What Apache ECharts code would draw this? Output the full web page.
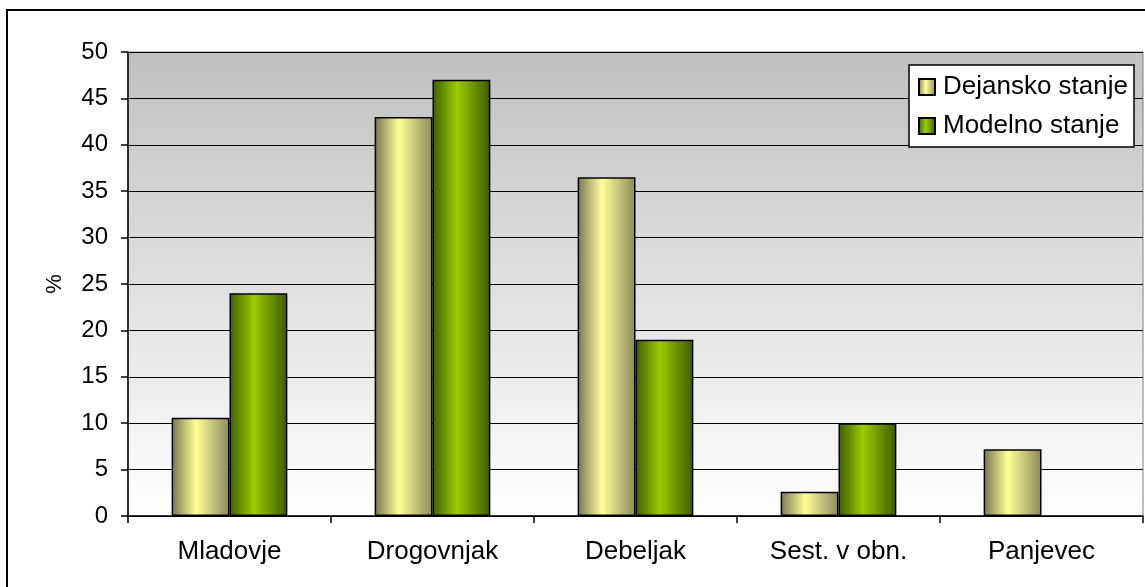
<!DOCTYPE html>
<html>
<head>
<meta charset="utf-8">
<script src="https://cdn.jsdelivr.net/npm/echarts@6/dist/echarts.min.js"></script>
<style>
html,body{margin:0;padding:0;background:#fff;}
#chart{width:1145px;height:587px;}
</style>
</head>
<body>
<div id="chart"></div>
<script>
const categories = ['Mladovje', 'Drogovnjak', 'Debeljak', 'Sest. v obn.', 'Panjevec'];
const dejansko = [10.6, 43, 36.5, 2.6, 7.2];
const modelno = [24, 47, 19, 10, null];
const seriesNames = ['Dejansko stanje', 'Modelno stanje'];

const chart = echarts.init(document.getElementById('chart'));
const font = 'Liberation Sans, Arial, sans-serif';

function hGrad(edgeL, mid, edgeR) {
  return new echarts.graphic.LinearGradient(0, 0, 1, 0, [
    {offset: 0, color: edgeL},
    {offset: 0.42, color: mid},
    {offset: 1, color: edgeR}
  ]);
}

chart.setOption({
  animation: false,
  backgroundColor: '#fff',
  graphic: [{
    type: 'rect', shape: {x: 7, y: 10, width: 1150, height: 600},
    style: {fill: 'none', stroke: '#000', lineWidth: 2}, z: -1
  }],
  grid: {
    left: 128, top: 52, right: 2, bottom: 71,
    show: true, borderColor: '#808080', borderWidth: 1,
    backgroundColor: new echarts.graphic.LinearGradient(0, 0, 0, 1, [
      {offset: 0, color: '#c0c0c0'},
      {offset: 1, color: '#ffffff'}
    ])
  },
  legend: {
    orient: 'vertical', left: 909, top: 65,
    backgroundColor: '#fff', borderColor: '#000', borderWidth: 1.5, borderRadius: 0,
    padding: [9, 6, 8, 9],
    itemGap: 13, itemWidth: 16, itemHeight: 16,
    icon: 'rect',
    textStyle: {fontFamily: font, fontSize: 26, color: '#000', padding: [0, 0, 0, 3]},
    data: seriesNames
  },
  xAxis: {
    type: 'category', data: categories,
    axisLine: {lineStyle: {color: '#000', width: 1.5}},
    axisTick: {show: true, length: 7, lineStyle: {color: '#000', width: 1.5}},
    axisLabel: {fontFamily: font, fontSize: 26, color: '#000', margin: 23}
  },
  yAxis: {
    type: 'value', min: 0, max: 50, interval: 5,
    name: '%', nameLocation: 'middle', nameGap: 62, nameRotate: 90,
    nameTextStyle: {fontFamily: font, fontSize: 22, color: '#000'},
    axisLine: {show: true, lineStyle: {color: '#000', width: 1.5}},
    axisTick: {show: true, length: 7, lineStyle: {color: '#000', width: 1.5}},
    axisLabel: {fontFamily: font, fontSize: 24, color: '#000', margin: 20},
    splitLine: {lineStyle: {color: '#000', width: 1.2}}
  },
  series: [
    {
      name: seriesNames[0], type: 'bar', data: dejansko,
      barGap: '0%', barCategoryGap: '43%',
      itemStyle: {color: hGrad('#767650', '#ffff99', '#8a8a5c'), borderColor: '#000', borderWidth: 1.5}
    },
    {
      name: seriesNames[1], type: 'bar', data: modelno,
      barGap: '0%', barCategoryGap: '43%',
      itemStyle: {color: hGrad('#3f5c00', '#99cc00', '#3f5a00'), borderColor: '#000', borderWidth: 1.5}
    }
  ]
});
</script>
</body>
</html>
